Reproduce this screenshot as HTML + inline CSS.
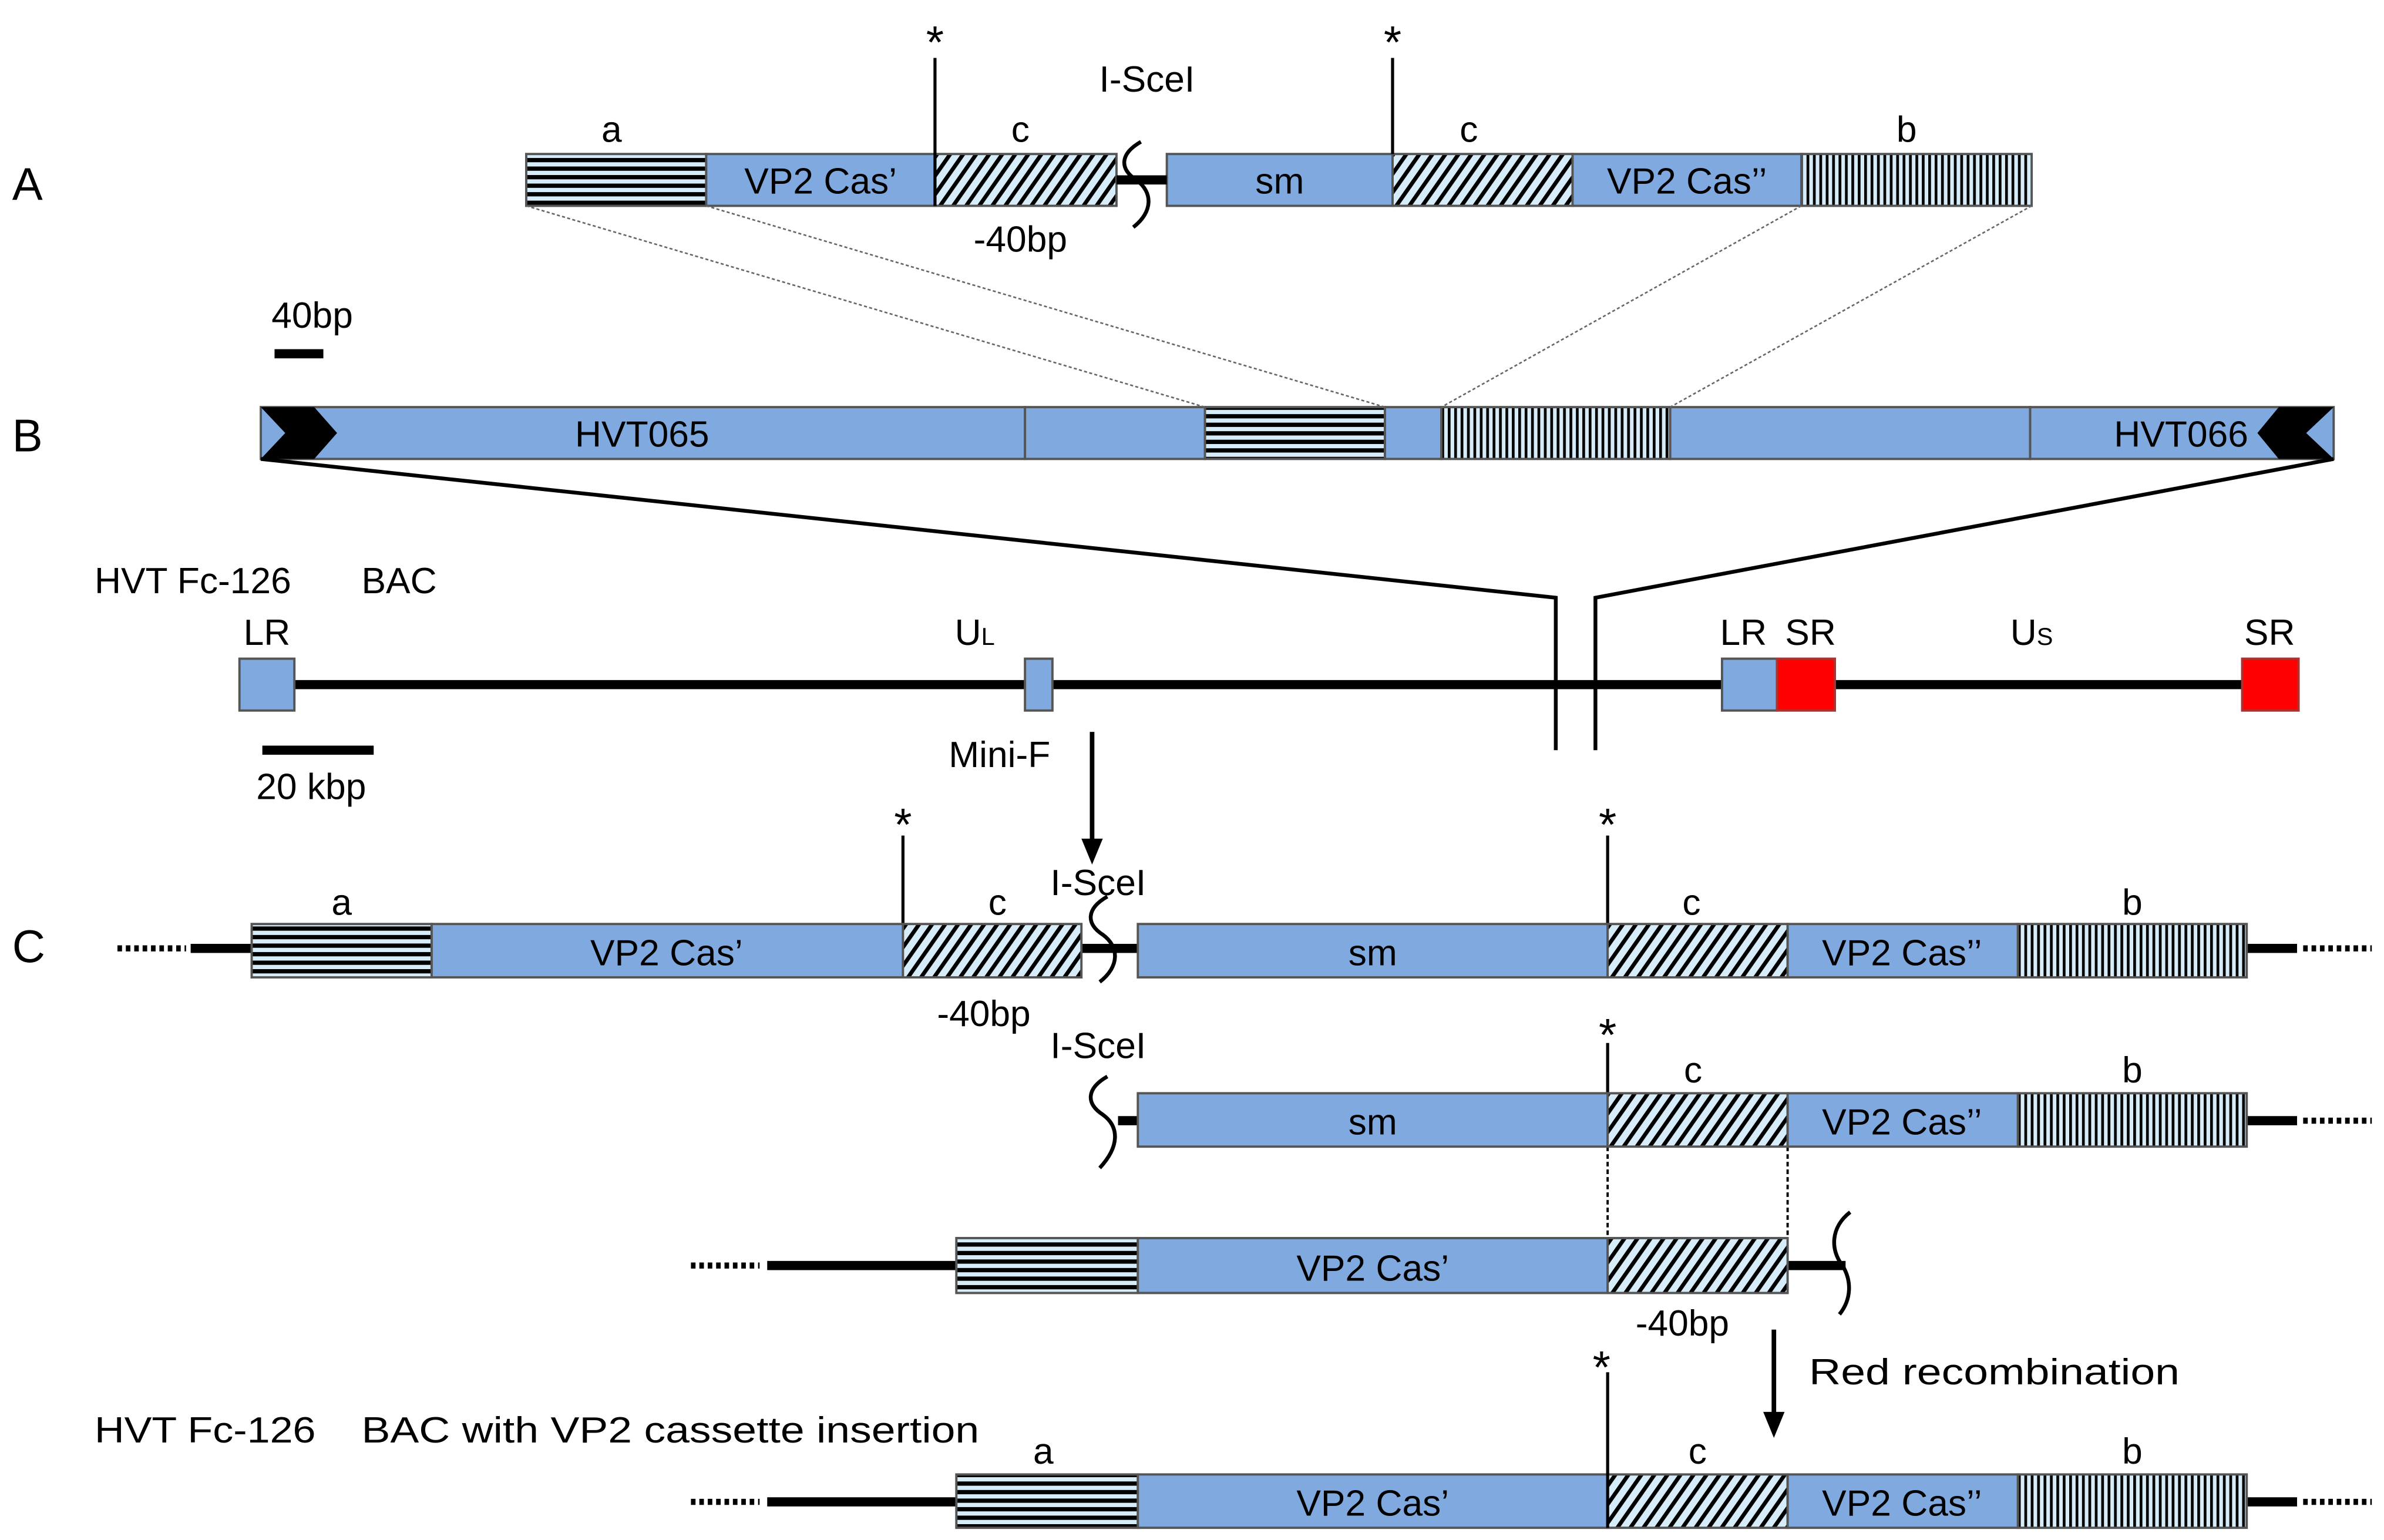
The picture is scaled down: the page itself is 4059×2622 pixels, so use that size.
<!DOCTYPE html>
<html><head><meta charset="utf-8"><style>
html,body{margin:0;padding:0;background:#fff;}
svg{display:block;}
text{font-family:"Liberation Sans",sans-serif;fill:#000;}
</style></head><body>
<svg width="4059" height="2622" viewBox="0 0 1563 1010" preserveAspectRatio="none" xmlns="http://www.w3.org/2000/svg">
<defs>
<pattern id="ph" width="8" height="5.6" patternUnits="userSpaceOnUse">
<rect width="8" height="5.6" fill="#d6ecf8"/><rect y="2.8" width="8" height="2.8" fill="#000"/></pattern>
<pattern id="pv" width="4.2" height="8" patternUnits="userSpaceOnUse">
<rect width="4.2" height="8" fill="#d6ecf8"/><rect width="1.8" height="8" fill="#000"/></pattern>
<pattern id="pd" width="7" height="7" patternUnits="userSpaceOnUse" patternTransform="rotate(35)">
<rect width="7" height="7" fill="#d6ecf8"/><rect width="2.6" height="7" fill="#000"/></pattern>
</defs>
<g stroke="#555" stroke-width="1.5">
<rect x="345" y="101" width="118" height="34" fill="url(#ph)"/>
<rect x="463" y="101" width="150" height="34" fill="#80aadf"/>
<rect x="613" y="101" width="119" height="34" fill="url(#pd)"/>
<rect x="765" y="101" width="148" height="34" fill="#80aadf"/>
<rect x="913" y="101" width="118" height="34" fill="url(#pd)"/>
<rect x="1031" y="101" width="150" height="34" fill="#80aadf"/>
<rect x="1181" y="101" width="151" height="34" fill="url(#pv)"/>
<rect x="171" y="267" width="501" height="34" fill="#80aadf"/>
<rect x="672" y="267" width="118" height="34" fill="#80aadf"/>
<rect x="790" y="267" width="118" height="34" fill="url(#ph)"/>
<rect x="908" y="267" width="37" height="34" fill="#80aadf"/>
<rect x="945" y="267" width="150" height="34" fill="url(#pv)"/>
<rect x="1095" y="267" width="236" height="34" fill="#80aadf"/>
<rect x="1331" y="267" width="199" height="34" fill="#80aadf"/>
</g>
<polygon points="171,267 206,267 221,284 206,301 171,301 187,284" fill="#000"/>
<polygon points="1530,267 1494,267 1480,284 1494,301 1530,301 1512,284" fill="#000"/>
<line x1="193" y1="449" x2="1470" y2="449" stroke="#000" stroke-width="6"/>
<g stroke="#555" stroke-width="1.5">
<rect x="157" y="432" width="36" height="34" fill="#80aadf"/>
<rect x="672" y="432" width="18" height="34" fill="#80aadf"/>
<rect x="1129" y="432" width="36" height="34" fill="#80aadf"/>
<rect x="1165" y="432" width="38" height="34" fill="#ff0000" stroke="#a33"/>
<rect x="1470" y="432" width="37" height="34" fill="#ff0000" stroke="#a33"/>
</g>

<g stroke="#000" fill="none">
<line x1="732" y1="118" x2="765" y2="118" stroke-width="6"/>
<line x1="613" y1="38" x2="613" y2="135" stroke-width="2"/>
<line x1="913" y1="38" x2="913" y2="101" stroke-width="2"/>
<path d="M726,588 C712,596 712,606 723,613 C734,621 734,634 721,644" transform="translate(22,-495)" stroke-width="2.5"/>
<g stroke-width="1" stroke="#666" stroke-dasharray="2,1.5">
<line x1="345" y1="135" x2="790" y2="267"/><line x1="463" y1="135" x2="908" y2="267"/>
<line x1="1181" y1="135" x2="945" y2="267"/><line x1="1332" y1="135" x2="1095" y2="267"/>
</g>
<line x1="180" y1="232" x2="212" y2="232" stroke-width="6"/>
<polyline points="171,301 1020,392 1020,492" stroke-width="2.5"/>
<polyline points="1530,301 1046,392 1046,492" stroke-width="2.5"/>
<line x1="172" y1="492" x2="245" y2="492" stroke-width="6"/>
<line x1="716" y1="480" x2="716" y2="552" stroke-width="3"/>
<line x1="1163" y1="872" x2="1163" y2="928" stroke-width="3"/>
</g>
<polygon points="709,550 723,550 716,567" fill="#000"/>
<polygon points="1156,926 1170,926 1163,943" fill="#000"/>

<g stroke="#000" fill="none">
<line x1="77" y1="622" x2="122" y2="622" stroke-width="4" stroke-dasharray="3,2.5"/>
<line x1="125" y1="622" x2="165" y2="622" stroke-width="6"/>
<line x1="709" y1="622" x2="746" y2="622" stroke-width="6"/>
<line x1="1473" y1="622" x2="1506" y2="622" stroke-width="6"/>
<line x1="1510" y1="622" x2="1555" y2="622" stroke-width="4" stroke-dasharray="3,2.5"/>
<line x1="592" y1="548" x2="592" y2="641" stroke-width="2"/>
<line x1="1054" y1="548" x2="1054" y2="641" stroke-width="2"/>
<path d="M726,588 C712,596 712,606 723,613 C734,621 734,634 721,644" stroke-width="2.5"/>
<line x1="733" y1="735" x2="746" y2="735" stroke-width="6"/>
<line x1="1473" y1="735" x2="1506" y2="735" stroke-width="6"/>
<line x1="1510" y1="735" x2="1555" y2="735" stroke-width="4" stroke-dasharray="3,2.5"/>
<line x1="1054" y1="684" x2="1054" y2="752" stroke-width="2"/>
<path d="M726,706 C712,714 712,724 723,731 C734,739 734,752 721,766" stroke-width="2.5"/>
<line x1="1054" y1="752" x2="1054" y2="812" stroke-width="1.5" stroke-dasharray="3,2"/>
<line x1="1172" y1="752" x2="1172" y2="812" stroke-width="1.5" stroke-dasharray="3,2"/>
<line x1="453" y1="830" x2="498" y2="830" stroke-width="4" stroke-dasharray="3,2.5"/>
<line x1="503" y1="830" x2="627" y2="830" stroke-width="6"/>
<line x1="1172" y1="830" x2="1210" y2="830" stroke-width="6"/>
<path d="M1213,795 C1200,805 1200,820 1208,830 C1214,840 1214,852 1206,862" stroke-width="2.5"/>
<line x1="453" y1="985" x2="498" y2="985" stroke-width="4" stroke-dasharray="3,2.5"/>
<line x1="503" y1="985" x2="627" y2="985" stroke-width="6"/>
<line x1="1473" y1="985" x2="1506" y2="985" stroke-width="6"/>
<line x1="1510" y1="985" x2="1555" y2="985" stroke-width="4" stroke-dasharray="3,2.5"/>
</g>
<g stroke="#555" stroke-width="1.5">
<rect x="165" y="606" width="118" height="35" fill="url(#ph)"/>
<rect x="283" y="606" width="309" height="35" fill="#80aadf"/>
<rect x="592" y="606" width="117" height="35" fill="url(#pd)"/>
<rect x="746" y="606" width="308" height="35" fill="#80aadf"/>
<rect x="1054" y="606" width="118" height="35" fill="url(#pd)"/>
<rect x="1172" y="606" width="151" height="35" fill="#80aadf"/>
<rect x="1323" y="606" width="150" height="35" fill="url(#pv)"/>
<rect x="746" y="717" width="308" height="35" fill="#80aadf"/>
<rect x="1054" y="717" width="118" height="35" fill="url(#pd)"/>
<rect x="1172" y="717" width="151" height="35" fill="#80aadf"/>
<rect x="1323" y="717" width="150" height="35" fill="url(#pv)"/>
<rect x="627" y="812" width="119" height="36" fill="url(#ph)"/>
<rect x="746" y="812" width="308" height="36" fill="#80aadf"/>
<rect x="1054" y="812" width="118" height="36" fill="url(#pd)"/>
<rect x="627" y="967" width="119" height="35" fill="url(#ph)"/>
<rect x="746" y="967" width="308" height="35" fill="#80aadf"/>
<rect x="1054" y="967" width="118" height="35" fill="url(#pd)"/>
<rect x="1172" y="967" width="151" height="35" fill="#80aadf"/>
<rect x="1323" y="967" width="150" height="35" fill="url(#pv)"/>
</g>
<line x1="1054" y1="900" x2="1054" y2="1002" stroke="#000" stroke-width="2"/>

<g font-size="30"><text x="8" y="131">A</text><text x="8" y="296">B</text><text x="8" y="631">C</text></g>
<g font-size="30" text-anchor="middle">
<text x="613" y="38">*</text><text x="913" y="38">*</text>
<text x="592" y="551">*</text><text x="1054" y="551">*</text>
<text x="1054" y="689">*</text><text x="1050" y="907">*</text>
</g>
<g font-size="24" text-anchor="middle">
<text x="401" y="93">a</text><text x="669" y="93">c</text><text x="752" y="60">I-SceI</text>
<text x="963" y="93">c</text><text x="1250" y="93">b</text>
<text x="538" y="127">VP2 Cas’</text><text x="839" y="127">sm</text><text x="1106" y="127">VP2 Cas’’</text>
<text x="669" y="165">-40bp</text>
<text x="421" y="293">HVT065</text><text x="1430" y="293">HVT066</text>
<text x="175" y="423">LR</text>
<text x="1143" y="423">LR</text><text x="1187" y="423">SR</text><text x="1488" y="423">SR</text>
<text x="224" y="600">a</text><text x="654" y="600">c</text><text x="720" y="587">I-SceI</text>
<text x="1109" y="600">c</text><text x="1398" y="600">b</text>
<text x="437" y="633">VP2 Cas’</text><text x="900" y="633">sm</text><text x="1247" y="633">VP2 Cas’’</text>
<text x="645" y="673">-40bp</text>
<text x="720" y="694">I-SceI</text>
<text x="1110" y="710">c</text><text x="1398" y="710">b</text>
<text x="900" y="744">sm</text><text x="1247" y="744">VP2 Cas’’</text>
<text x="900" y="840">VP2 Cas’</text>
<text x="1103" y="876">-40bp</text>
<text x="684" y="960">a</text><text x="1113" y="960">c</text><text x="1398" y="960">b</text>
<text x="900" y="994">VP2 Cas’</text><text x="1247" y="994">VP2 Cas’’</text>
</g>
<g font-size="24">
<text x="178" y="215">40bp</text>
<text x="62" y="389">HVT Fc-126</text><text x="237" y="389">BAC</text>
<text x="626" y="423">U<tspan font-size="16">L</tspan></text>
<text x="1318" y="423">U<tspan font-size="16">S</tspan></text>
<text x="168" y="524">20 kbp</text>
<text x="622" y="503">Mini-F</text>
<text x="1186" y="908" textLength="243" lengthAdjust="spacingAndGlyphs">Red recombination</text>
<text x="62" y="946" textLength="145" lengthAdjust="spacingAndGlyphs">HVT Fc-126</text>
<text x="237" y="946" textLength="405" lengthAdjust="spacingAndGlyphs">BAC with VP2 cassette insertion</text>
</g>
</svg>
</body></html>
